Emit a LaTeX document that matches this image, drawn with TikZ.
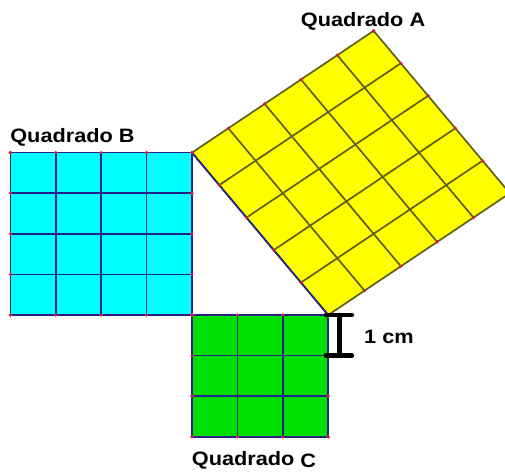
\documentclass[tikz,border=0pt]{standalone}
\usepackage{graphicx}
\usepackage{fontspec}
\setmainfont{Liberation Sans}
\definecolor{cyanB}{RGB}{0,255,255}
\definecolor{greenC}{RGB}{0,224,0}
\definecolor{yellowA}{RGB}{255,255,0}
\definecolor{blueLine}{RGB}{35,35,140}
\definecolor{oliveLine}{RGB}{95,95,25}
\definecolor{dotRed}{RGB}{220,30,60}
\tikzset{
  lab/.style={font=\bfseries\fontsize{9.7}{11}\selectfont, inner sep=0pt},
  gridB/.style={draw=blueLine, line width=0.85pt},
  gridA/.style={draw=oliveLine, line width=0.85pt},
  pt/.style={fill=dotRed, draw=none},
  bracket/.style={line width=2.3pt, black, line cap=round}
}
\begin{document}
\begin{tikzpicture}[x=22.7pt,y=20.3pt]
\useasboundingbox (-4.229,-3.867) rectangle (6.894,7.759);
\clip (-4.229,-3.867) rectangle (6.894,7.759);
% Square B
\fill[cyanB] (-4,0) rectangle (0,4);
\foreach \i in {0,...,4} {
  \draw[gridB] (-4+\i,0) -- (-4+\i,4);
  \draw[gridB] (-4,\i) -- (0,\i);
}
% Square C
\fill[greenC] (0,0) rectangle (3,-3);
\foreach \i in {0,...,3} {
  \draw[gridB] (\i,0) -- (\i,-3);
  \draw[gridB] (0,-\i) -- (3,-\i);
}
% Square A
\fill[yellowA] (0,4) -- (3,0) -- (7,3) -- (4,7) -- cycle;
\foreach \i in {0,...,5} {
  \draw[gridA] ({0.6*\i},{4-0.8*\i}) -- ({0.6*\i+4},{7-0.8*\i});
  \draw[gridA] ({0.8*\i},{4+0.6*\i}) -- ({0.8*\i+3},{0.6*\i});
}
\draw[gridB] (0,4) -- (3,0);
% dots
\foreach \i in {0,...,4} {
  \fill[pt] (-4+\i,0) circle (0.9pt);
  \fill[pt] (-4+\i,4) circle (0.9pt);
  \fill[pt] (-4,\i) circle (0.9pt);
  \fill[pt] (0,\i) circle (0.9pt);
}
\foreach \i in {0,...,3} {
  \fill[pt] (\i,0) circle (0.9pt);
  \fill[pt] (\i,-3) circle (0.9pt);
  \fill[pt] (0,-\i) circle (0.9pt);
  \fill[pt] (3,-\i) circle (0.9pt);
}
\foreach \i in {0,...,5} {
  \fill[pt] ({0.6*\i},{4-0.8*\i}) circle (0.9pt);
  \fill[pt] ({0.6*\i+4},{7-0.8*\i}) circle (0.9pt);
  \fill[pt] ({0.8*\i},{4+0.6*\i}) circle (0.9pt);
  \fill[pt] ({0.8*\i+3},{0.6*\i}) circle (0.9pt);
}
% bracket 1 cm
\coordinate (bt) at (3.244,0);
\coordinate (bb) at (3.244,-1);
\draw[bracket] (2.95,0) -- (3.52,0);
\draw[bracket] (2.95,-1) -- (3.52,-1);
\draw[bracket] (bt) -- (bb);
% labels
\node[lab] (labA) at (3.767,7.241) {\scalebox{1.12}[1]{Quadrado A}};
\node[lab] (labB) at (-2.632,4.384) {\scalebox{1.12}[1]{Quadrado B}};
\node[lab] (labC) at (1.366,-3.571) {\scalebox{1.12}[1]{Quadrado \raisebox{-1pt}{C}}};
\node[lab] (labcm) at (4.339,-0.542) {\scalebox{1.12}[1]{1 cm}};
\end{tikzpicture}
\end{document}
